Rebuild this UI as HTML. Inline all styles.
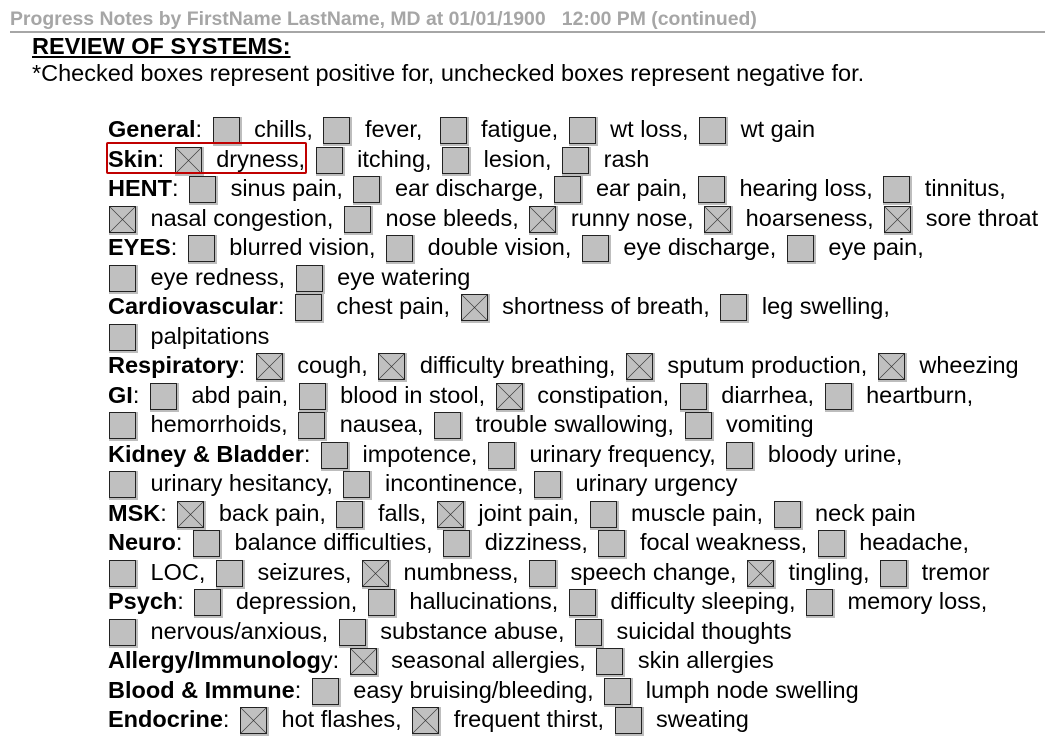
<!DOCTYPE html>
<html><head><meta charset="utf-8"><style>
body{margin:0;width:1045px;height:751px;background:#fff;position:relative;overflow:hidden;font-family:"Liberation Sans",Arial,sans-serif;color:#000}
#hdr{position:absolute;left:10px;top:8px;font-size:19.4px;line-height:22px;font-weight:bold;color:#a6a6a6;white-space:pre}
#line{position:absolute;left:10px;top:31px;width:1035px;height:2px;background:#a6a6a6}
#ros{position:absolute;left:32px;top:33px;font-size:23.5px;font-weight:bold;text-decoration:underline;line-height:26px}
#note{position:absolute;left:32px;top:60px;font-size:23.5px;line-height:26px}
#rows{position:absolute;left:108px;top:115px;font-size:23.5px;line-height:29.5px;white-space:nowrap}
#rows div{height:29.5px}
i.b{display:inline-block;width:27px;height:27px;border:1px solid #222;background:#c0c0c0;box-shadow:1px 1px 0 1px #bdbdbd;vertical-align:-7px;margin:0 8px 0 4px;box-sizing:border-box}
#rows div>i.b:first-child{margin-left:1px}
i.x{background:linear-gradient(45deg,transparent calc(50% - .6px),#333 50%,transparent calc(50% + .6px)),linear-gradient(-45deg,transparent calc(50% - .6px),#333 50%,transparent calc(50% + .6px)),#c0c0c0}
b{font-weight:bold}
#hl{position:absolute;left:106px;top:142px;width:201px;height:32px;border:2px solid #c00000;box-sizing:border-box;border-radius:2px}
</style></head><body>
<div id="hdr">Progress Notes by FirstName LastName, MD at 01/01/1900   12:00 PM (continued)</div>
<div id="line"></div>
<div id="ros">REVIEW OF SYSTEMS:</div>
<div id="note">*Checked boxes represent positive for, unchecked boxes represent negative for.</div>
<div id="rows">
<div><b>General</b>: <i class="b"></i> chills, <i class="b"></i> fever, &nbsp;<i class="b"></i> fatigue, <i class="b"></i> wt loss, <i class="b"></i> wt gain</div>
<div><b>Skin</b>: <i class="b x"></i> dryness, <i class="b"></i> itching, <i class="b"></i> lesion, <i class="b"></i> rash</div>
<div><b>HENT</b>: <i class="b"></i> sinus pain, <i class="b"></i> ear discharge, <i class="b"></i> ear pain, <i class="b"></i> hearing loss, <i class="b"></i> tinnitus,</div>
<div><i class="b x"></i> nasal congestion, <i class="b"></i> nose bleeds, <i class="b x"></i> runny nose, <i class="b x"></i> hoarseness, <i class="b x"></i> sore throat</div>
<div><b>EYES</b>: <i class="b"></i> blurred vision, <i class="b"></i> double vision, <i class="b"></i> eye discharge, <i class="b"></i> eye pain,</div>
<div><i class="b"></i> eye redness, <i class="b"></i> eye watering</div>
<div><b>Cardiovascular</b>: <i class="b"></i> chest pain, <i class="b x"></i> shortness of breath, <i class="b"></i> leg swelling,</div>
<div><i class="b"></i> palpitations</div>
<div><b>Respiratory</b>: <i class="b x"></i> cough, <i class="b x"></i> difficulty breathing, <i class="b x"></i> sputum production, <i class="b x"></i> wheezing</div>
<div><b>GI</b>: <i class="b"></i> abd pain, <i class="b"></i> blood in stool, <i class="b x"></i> constipation, <i class="b"></i> diarrhea, <i class="b"></i> heartburn,</div>
<div><i class="b"></i> hemorrhoids, <i class="b"></i> nausea, <i class="b"></i> trouble swallowing, <i class="b"></i> vomiting</div>
<div><b>Kidney &amp; Bladder</b>: <i class="b"></i> impotence, <i class="b"></i> urinary frequency, <i class="b"></i> bloody urine,</div>
<div><i class="b"></i> urinary hesitancy, <i class="b"></i> incontinence, <i class="b"></i> urinary urgency</div>
<div><b>MSK</b>: <i class="b x"></i> back pain, <i class="b"></i> falls, <i class="b x"></i> joint pain, <i class="b"></i> muscle pain, <i class="b"></i> neck pain</div>
<div><b>Neuro</b>: <i class="b"></i> balance difficulties, <i class="b"></i> dizziness, <i class="b"></i> focal weakness, <i class="b"></i> headache,</div>
<div><i class="b"></i> LOC, <i class="b"></i> seizures, <i class="b x"></i> numbness, <i class="b"></i> speech change, <i class="b x"></i> tingling, <i class="b"></i> tremor</div>
<div><b>Psych</b>: <i class="b"></i> depression, <i class="b"></i> hallucinations, <i class="b"></i> difficulty sleeping, <i class="b"></i> memory loss,</div>
<div><i class="b"></i> nervous/anxious, <i class="b"></i> substance abuse, <i class="b"></i> suicidal thoughts</div>
<div><b>Allergy/Immunolog</b>y: <i class="b x"></i> seasonal allergies, <i class="b"></i> skin allergies</div>
<div><b>Blood &amp; Immune</b>: <i class="b"></i> easy bruising/bleeding, <i class="b"></i> lumph node swelling</div>
<div><b>Endocrine</b>: <i class="b x"></i> hot flashes, <i class="b x"></i> frequent thirst, <i class="b"></i> sweating</div>
</div>
<div id="hl"></div>
</body></html>
